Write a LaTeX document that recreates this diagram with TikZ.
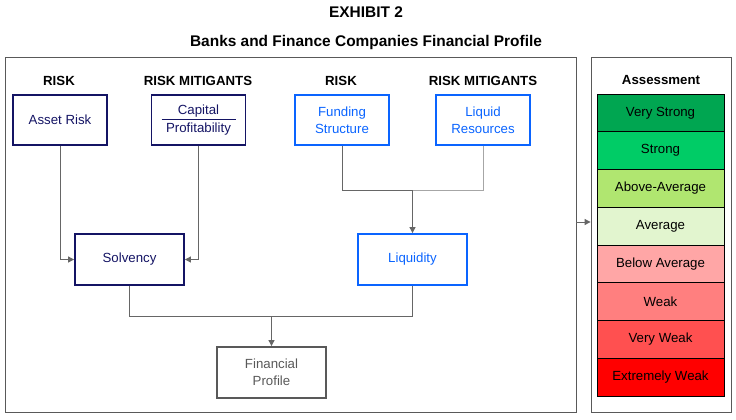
\documentclass[tikz,border=0pt]{standalone}
\usepackage{fontspec}
\setmainfont{Liberation Sans}
\usetikzlibrary{arrows.meta,calc,positioning}
\definecolor{navy}{HTML}{141464}
\definecolor{blu}{HTML}{0A64FF}
\definecolor{gry}{HTML}{595959}
\definecolor{lgry}{HTML}{666666}
\definecolor{c1}{HTML}{00A651}
\definecolor{c2}{HTML}{00CC66}
\definecolor{c3}{HTML}{B0E670}
\definecolor{c4}{HTML}{E2F5CF}
\definecolor{c5}{HTML}{FFA6A6}
\definecolor{c6}{HTML}{FF7F7F}
\definecolor{c7}{HTML}{FF5050}
\definecolor{c8}{HTML}{FF0000}
\tikzset{
  frame/.style={draw=gry, line width=0.8bp, inner sep=0},
  hdr/.style={font=\fontsize{13.3}{15}\selectfont\bfseries},
  navybox/.style={draw=navy, line width=1.8bp, text=navy, minimum width=94bp, minimum height=50bp, align=center, inner sep=0, font=\fontsize{13.3}{17}\selectfont},
  bluebox/.style={draw=blu, line width=1.8bp, text=blu, minimum width=94bp, minimum height=50bp, align=center, inner sep=0, font=\fontsize{13.3}{17}\selectfont},
  conn/.style={draw=lgry, line width=0.9bp},
  arr/.style={conn, -{Triangle[length=6bp,width=6bp]}},
  bar/.style={draw=black, line width=0.9bp, minimum width=127bp, minimum height=37.75bp, inner sep=0, font=\fontsize{13.3}{15}\selectfont},
}
\begin{document}
\begin{tikzpicture}[x=1bp,y=-1bp]
\useasboundingbox (0,0) rectangle (736,419);
\node[font=\fontsize{15.5}{17}\selectfont\bfseries] (t1) at (366,12) {EXHIBIT 2};
\node[font=\fontsize{15.5}{17}\selectfont\bfseries] (t2) at (366,43) {Banks and Finance Companies Financial Profile};
\node[frame, minimum width=571bp, minimum height=355bp] (main) at (290.5,234.5) {};
\node[frame, minimum width=140bp, minimum height=355bp] (assess) at (661,234.5) {};
\node[hdr] (h1) at (59,81) {RISK};
\node[hdr] (h2) at (198,81) {RISK MITIGANTS};
\node[hdr] (h3) at (341,81) {RISK};
\node[hdr] (h4) at (483,81) {RISK MITIGANTS};
\node[navybox] (asset) at (60,120) {Asset Risk};
\node[navybox] (cap) at (198.5,120) {Capital\\[1bp]Profitability};
\draw[navy, line width=0.8bp] ($(cap.center)+(-37,-1)$) -- ($(cap.center)+(37,-1)$);
\node[bluebox] (fund) at (342,120) {Funding\\Structure};
\node[bluebox] (liq) at (483,120) {Liquid\\Resources};
\node[navybox, minimum width=109bp, minimum height=51bp] (solv) at (129.5,259.5) {Solvency};
\node[bluebox, minimum width=109bp, minimum height=51bp] (liqd) at (412.5,259.5) {Liquidity};
\node[draw=gry, line width=1.8bp, text=gry, minimum width=109bp, minimum height=51bp, align=center, inner sep=0, font=\fontsize{13.3}{17}\selectfont] (fp) at (271.5,372.5) {Financial\\Profile};
\coordinate (j1) at (412.5,190);
\coordinate (j2) at (271.5,316);
\draw[arr] (asset.south) |- (solv.west);
\draw[arr] (cap.south) |- (solv.east);
\draw[conn] (fund.south) |- (j1);
\draw[conn, draw=gray!70] (liq.south) |- (j1);
\draw[arr] (j1) -- (liqd.north);
\draw[conn] (solv.south) |- (j2);
\draw[conn] (liqd.south) |- (j2);
\draw[arr] (j2) -- (fp.north);
\draw[arr] (main.east |- 0,222) -- (assess.west |- 0,222);
\node[font=\fontsize{13.3}{15}\selectfont\bfseries] (ah) at (661,80) {Assessment};
\node[bar, fill=c1] (b1) at (660.5,112.875) {Very Strong};
\node[bar, fill=c2] (b2) at (660.5,150.625) {Strong};
\node[bar, fill=c3] (b3) at (660.5,188.375) {Above-Average};
\node[bar, fill=c4] (b4) at (660.5,226.125) {Average};
\node[bar, fill=c5] (b5) at (660.5,263.875) {Below Average};
\node[bar, fill=c6] (b6) at (660.5,301.625) {Weak};
\node[bar, fill=c7] (b7) at (660.5,339.375) {Very Weak};
\node[bar, fill=c8] (b8) at (660.5,377.125) {Extremely Weak};
\end{tikzpicture}
\end{document}
